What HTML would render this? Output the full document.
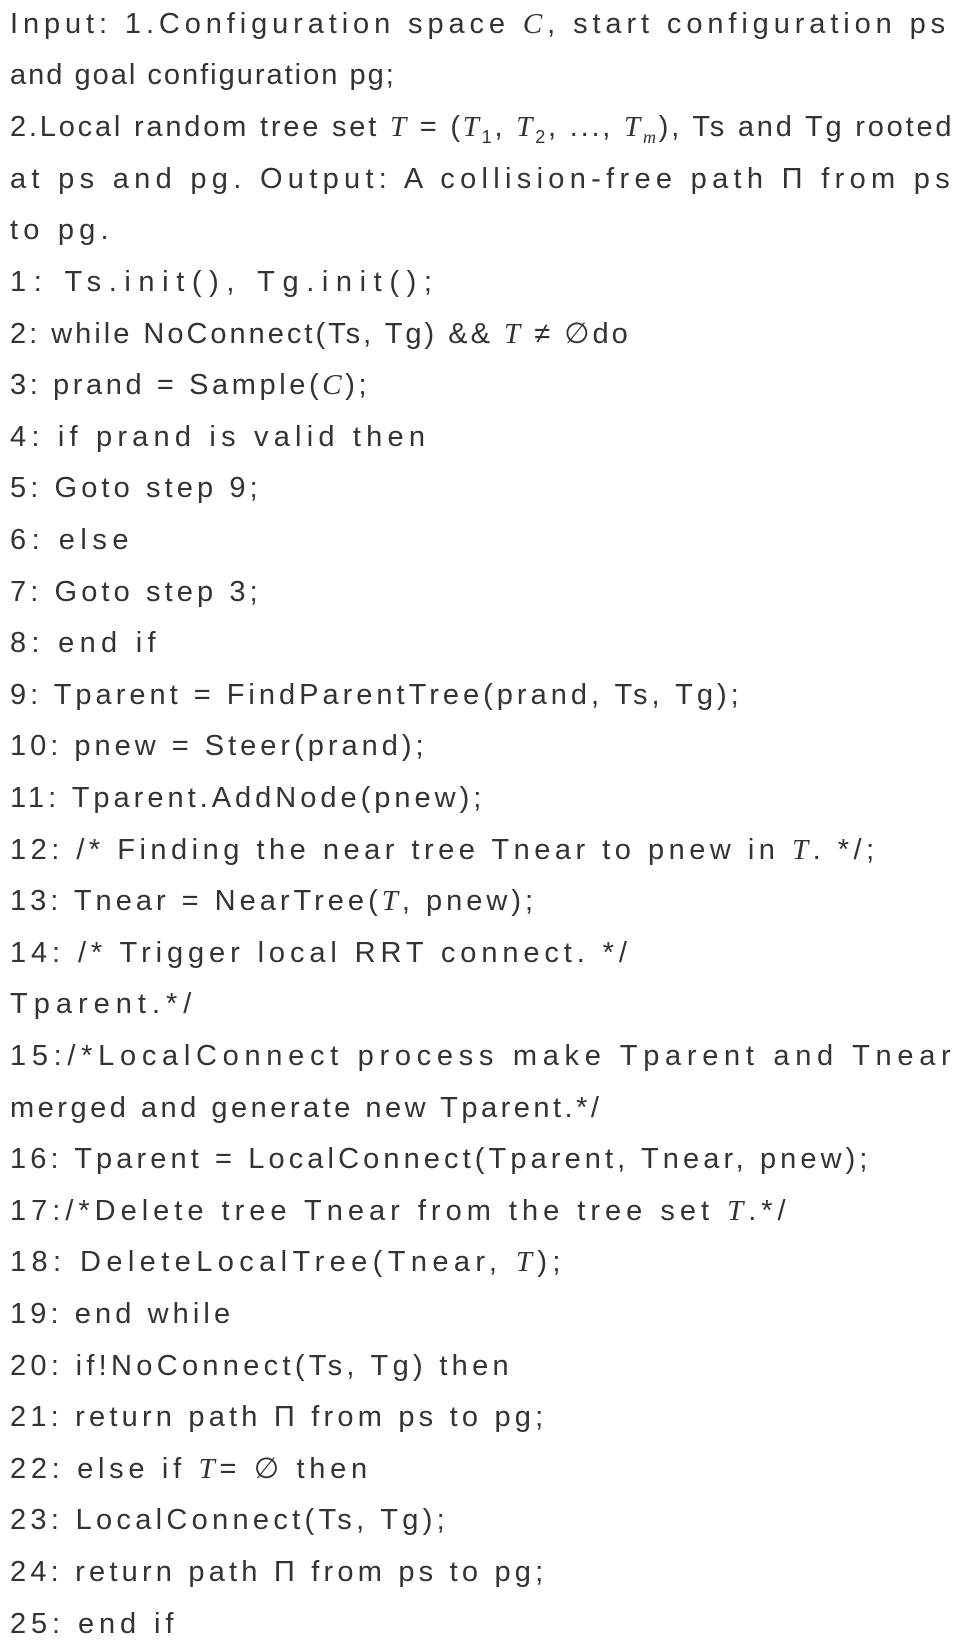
<!DOCTYPE html>
<html><head><meta charset="utf-8"><style>
html,body{margin:0;padding:0;background:#fff;}
body{width:963px;height:1652px;overflow:hidden;position:relative;}
.l{position:absolute;left:10px;font-family:"Liberation Sans",sans-serif;font-size:29px;color:#333;white-space:pre;line-height:52px;height:52px;font-weight:300;}
i{font-family:"Liberation Serif",serif;}
sub{font-size:18px;line-height:0;}
</style></head><body>
<div class="l" style="top:-2px;letter-spacing:4.9px">Input: 1.Configuration space <i>C</i>, start configuration ps</div>
<div class="l" style="top:49px;letter-spacing:2px">and goal configuration pg;</div>
<div class="l" style="top:101px;letter-spacing:2.8px">2.Local random tree set <i>T</i> = (<i>T</i><sub>1</sub>, <i>T</i><sub>2</sub>, ..., <i>T<sub>m</sub></i>), Ts and Tg rooted</div>
<div class="l" style="top:153px;letter-spacing:5.3px">at ps and pg. Output: A collision-free path Π from ps</div>
<div class="l" style="top:204px;letter-spacing:5.2px">to pg.</div>
<div class="l" style="top:256px;letter-spacing:7.6px">1: Ts.init(), Tg.init();</div>
<div class="l" style="top:308px;letter-spacing:3px">2: while NoConnect(Ts, Tg) &amp;&amp; <i>T</i> ≠ ∅do</div>
<div class="l" style="top:359px;letter-spacing:3.6px">3: prand = Sample(<i>C</i>);</div>
<div class="l" style="top:411px;letter-spacing:5.2px">4: if prand is valid then</div>
<div class="l" style="top:462px;letter-spacing:4.1px">5: Goto step 9;</div>
<div class="l" style="top:514px;letter-spacing:5.5px">6: else</div>
<div class="l" style="top:566px;letter-spacing:4.1px">7: Goto step 3;</div>
<div class="l" style="top:617px;letter-spacing:5.3px">8: end if</div>
<div class="l" style="top:669px;letter-spacing:4px">9: Tparent = FindParentTree(prand, Ts, Tg);</div>
<div class="l" style="top:720px;letter-spacing:4px">10: pnew = Steer(prand);</div>
<div class="l" style="top:772px;letter-spacing:4px">11: Tparent.AddNode(pnew);</div>
<div class="l" style="top:824px;letter-spacing:4.5px">12: /* Finding the near tree Tnear to pnew in <i>T</i>. */;</div>
<div class="l" style="top:875px;letter-spacing:4px">13: Tnear = NearTree(<i>T</i>, pnew);</div>
<div class="l" style="top:927px;letter-spacing:4.9px">14: /* Trigger local RRT connect. */</div>
<div class="l" style="top:978px;letter-spacing:6px">Tparent.*/</div>
<div class="l" style="top:1030px;letter-spacing:5.7px">15:/*LocalConnect process make Tparent and Tnear</div>
<div class="l" style="top:1082px;letter-spacing:3.5px">merged and generate new Tparent.*/</div>
<div class="l" style="top:1133px;letter-spacing:4.1px">16: Tparent = LocalConnect(Tparent, Tnear, pnew);</div>
<div class="l" style="top:1185px;letter-spacing:5px">17:/*Delete tree Tnear from the tree set <i>T</i>.*/</div>
<div class="l" style="top:1236px;letter-spacing:5.4px">18: DeleteLocalTree(Tnear, <i>T</i>);</div>
<div class="l" style="top:1288px;letter-spacing:4.1px">19: end while</div>
<div class="l" style="top:1340px;letter-spacing:4.3px">20: if!NoConnect(Ts, Tg) then</div>
<div class="l" style="top:1391px;letter-spacing:4.2px">21: return path Π from ps to pg;</div>
<div class="l" style="top:1443px;letter-spacing:4.7px">22: else if <i>T</i>= ∅ then</div>
<div class="l" style="top:1494px;letter-spacing:4.3px">23: LocalConnect(Ts, Tg);</div>
<div class="l" style="top:1546px;letter-spacing:4.2px">24: return path Π from ps to pg;</div>
<div class="l" style="top:1598px;letter-spacing:4.9px">25: end if</div>
</body></html>
